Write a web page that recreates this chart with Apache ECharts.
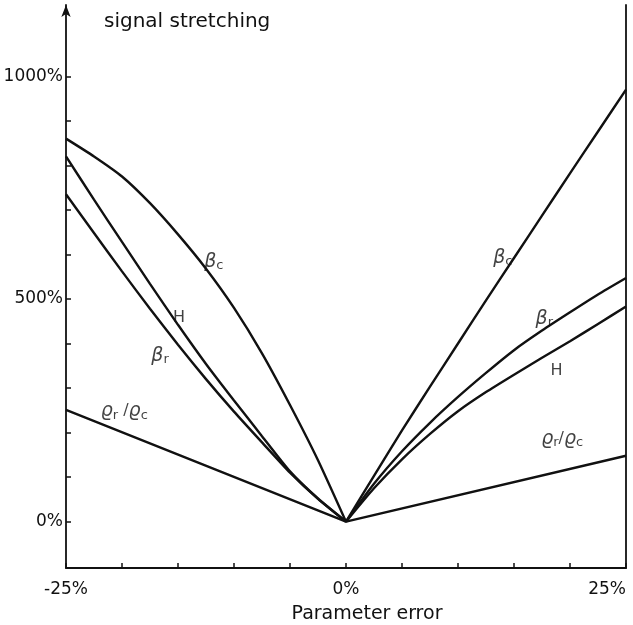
<!DOCTYPE html>
<html>
<head>
<meta charset="utf-8">
<title>signal stretching</title>
<script src="https://cdn.jsdelivr.net/npm/echarts@6/dist/echarts.min.js"></script>
<style>
  html, body { margin: 0; padding: 0; background: #fff; }
  #chart { width: 633px; height: 625px; }
</style>
</head>
<body>
<div id="chart"></div>
<script>
// parameter error (%) for the left and right branches
var xLeft = [-25, -22.5, -20, -17.5, -15, -12.5, -10, -7.5, -5, -2.5, 0]
var xRight = [0, 2.5, 5, 7.5, 10, 12.5, 15, 17.5, 20, 22.5, 25]

// signal stretching (%)
var betaCLeft = [860, 820, 775, 715, 645, 568, 480, 378, 262, 138, 0]
var betaCRight = [0, 103, 205, 303, 400, 497, 592, 687, 782, 876, 970]
var hLeft = [820, 723, 628, 534, 442, 354, 272, 192, 113, 52, 0]
var hRight = [0, 75, 140, 197, 248, 291, 330, 368, 405, 444, 483]
var betaRLeft = [735, 648, 562, 478, 397, 320, 247, 178, 110, 51, 0]
var betaRRight = [0, 85, 158, 222, 280, 334, 385, 429, 470, 510, 547]
var rhoX = [-25, 0, 25]
var rhoVals = [251, 0, 148]

// axis ticks and labels
var yTicks = [0, 100, 200, 300, 400, 500, 600, 700, 800, 900, 1000]
var yLabels = [0, 500, 1000]
var xTicks = [-25, -20, -15, -10, -5, 0, 5, 10, 15, 20, 25]
var xLabels = [-25, 0, 25]

function pairs (xs, ys) {
  return xs.map(function (x, i) { return [x, ys[i]] })
}

var ink = '#111'
var font = 'DejaVu Sans'

var rich = {
  g: { fontFamily: font, fontSize: 19, fontStyle: 'italic', color: ink },
  t: { fontFamily: font, fontSize: 16, color: ink },
  s: { fontFamily: font, fontSize: 13, color: ink, padding: [8, 0, 0, 0] }
}

// curve labels, placed in data coordinates
var curveLabels = [
  { at: [-11.8, 583], text: '{g|β}{s|c}' },
  { at: [-14.9, 458], text: '{t|H}' },
  { at: [-16.6, 372], text: '{g|β}{s|r}' },
  { at: [-19.8, 248], text: '{g|ϱ}{s|r}{t| /}{g|ϱ}{s|c}' },
  { at: [14, 592], text: '{g|β}{s|c}' },
  { at: [17.7, 455], text: '{g|β}{s|r}' },
  { at: [18.8, 338], text: '{t|H}' },
  { at: [19.3, 186], text: '{g|ϱ}{s|r}{t|/}{g|ϱ}{s|c}' }
]

function curve (name, data, smooth) {
  return {
    name: name,
    type: 'line',
    data: data,
    smooth: smooth ? 0.2 : false,
    showSymbol: false,
    silent: true,
    lineStyle: { color: ink, width: 2.4 }
  }
}

var myChart = echarts.init(document.getElementById('chart'))
var option = {
  backgroundColor: '#fff',
  animation: false,
  title: {
    text: 'signal stretching',
    left: 99,
    top: 7,
    textStyle: { fontFamily: font, fontSize: 20, fontWeight: 'normal', color: ink }
  },
  grid: { left: 66, right: 7, top: 5, bottom: 57, containLabel: false, outerBoundsMode: 'none' },
  xAxis: {
    type: 'value',
    min: -25,
    max: 25,
    name: 'Parameter error',
    nameLocation: 'middle',
    nameGap: 37,
    nameTextStyle: { fontFamily: font, fontSize: 19, color: ink, padding: [0, 0, 0, 42] },
    axisLine: { onZero: false, lineStyle: { color: ink, width: 1.8 } },
    axisTick: { show: true, inside: true, length: 5, customValues: xTicks, lineStyle: { color: ink, width: 1.5 } },
    axisLabel: {
      customValues: xLabels,
      margin: 13,
      alignMaxLabel: 'right',
      fontFamily: font,
      fontSize: 17,
      color: ink,
      formatter: function (v) { return v + '%' }
    },
    splitLine: { show: false }
  },
  yAxis: [
    {
      type: 'value',
      min: -104,
      max: 1160,
      axisLine: {
        onZero: false,
        symbol: ['none', 'arrow'],
        symbolSize: [7, 12],
        lineStyle: { color: ink, width: 1.8 }
      },
      axisTick: { show: true, inside: true, length: 5, customValues: yTicks, lineStyle: { color: ink, width: 1.5 } },
      axisLabel: {
        customValues: yLabels,
        margin: 3,
        fontFamily: font,
        fontSize: 17,
        color: ink,
        formatter: function (v) { return v + '%' }
      },
      splitLine: { show: false }
    },
    {
      type: 'value',
      position: 'right',
      min: -104,
      max: 1155,
      axisLine: { show: true, onZero: false, lineStyle: { color: ink, width: 1.8 } },
      axisTick: { show: false },
      axisLabel: { show: false },
      splitLine: { show: false }
    }
  ],
  series: [
    curve('βc left', pairs(xLeft, betaCLeft), true),
    curve('βc right', pairs(xRight, betaCRight), true),
    curve('H left', pairs(xLeft, hLeft), true),
    curve('H right', pairs(xRight, hRight), true),
    curve('βr left', pairs(xLeft, betaRLeft), true),
    curve('βr right', pairs(xRight, betaRRight), true),
    curve('ρr/ρc', pairs(rhoX, rhoVals), false),
    {
      name: 'labels',
      type: 'scatter',
      symbolSize: 0,
      silent: true,
      data: curveLabels.map(function (d) {
        return {
          value: d.at,
          label: {
            show: true,
            position: 'inside',
            formatter: d.text,
            rich: rich
          }
        }
      })
    }
  ]
}
myChart.setOption(option)
</script>
</body>
</html>
